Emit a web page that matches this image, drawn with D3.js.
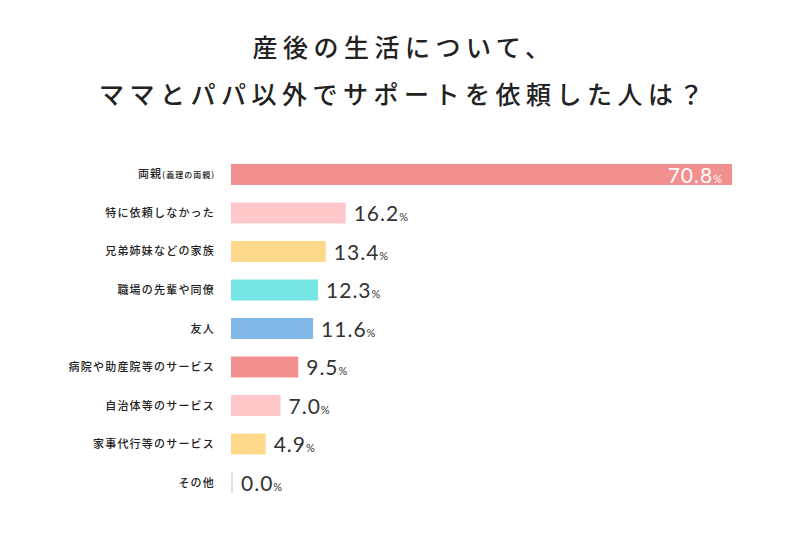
<!DOCTYPE html>
<html>
<head>
<meta charset="utf-8">
<script src="https://cdn.jsdelivr.net/npm/d3@7"></script>
<style>
  body { margin: 0; background: #fff; }
  svg { display: block; }
</style>
</head>
<body>
<svg id="chart" width="800" height="533"></svg>
<script>
// data
var titleLines = ["産後の生活について、", "ママとパパ以外でサポートを依頼した人は？"]
var categories = ["両親", "特に依頼しなかった", "兄弟姉妹などの家族", "職場の先輩や同僚", "友人",
                  "病院や助産院等のサービス", "自治体等のサービス", "家事代行等のサービス", "その他"]
var subLabels = ["(義理の両親)", "", "", "", "", "", "", "", ""]
var values = [70.8, 16.2, 13.4, 12.3, 11.6, 9.5, 7.0, 4.9, 0.0]
var barColors = ["#f28f8f", "#fec7ca", "#fed98b", "#74e6e5", "#80b9e8",
                 "#f28f8f", "#fec7ca", "#fed98b", "#dddddd"]

var svg = d3.select("#chart")
var x0 = 231

var x = d3.scaleLinear()
    .domain([0, d3.max(values)])
    .range([0, 501])

var y = d3.scaleBand()
    .domain(categories)
    .range([164, 493])
    .paddingInner(0.455)
    .paddingOuter(0)

// title
svg.selectAll("text.title")
    .data(titleLines)
    .enter().append("text")
    .attr("class", "title")
    .attr("x", 404)
    .attr("y", function(d, i) { return 57 + i * 47 })
    .attr("text-anchor", "middle")
    .style("font-family", "'Noto Sans CJK JP', sans-serif")
    .style("font-weight", 500)
    .style("font-size", "25px")
    .style("letter-spacing", "5.5px")
    .style("fill", "#222")
    .text(function(d) { return d })

var row = svg.selectAll("g.row")
    .data(categories)
    .enter().append("g")
    .attr("class", "row")

// bars
row.append("rect")
    .attr("x", x0)
    .attr("y", function(d) { return y(d) })
    .attr("height", y.bandwidth())
    .attr("width", function(d, i) { return Math.max(2, x(values[i])) })
    .style("fill", function(d, i) { return barColors[i] })

// category labels
var lab = row.append("text")
    .attr("x", 215)
    .attr("y", function(d) { return y(d) + y.bandwidth() / 2 + 4 })
    .attr("text-anchor", "end")
    .style("font-family", "'Noto Sans CJK JP', sans-serif")
    .style("font-weight", 500)
    .style("font-size", "11px")
    .style("letter-spacing", "1.2px")
    .style("fill", "#222")
lab.append("tspan").text(function(d) { return d })
lab.append("tspan")
    .style("font-size", "8px")
    .style("letter-spacing", "1px")
    .text(function(d, i) { return subLabels[i] })

// value labels
var val = row.append("text")
    .attr("x", function(d, i) {
        if (i == 0) { return x0 + x(values[i]) - 10 }
        else { return x0 + Math.max(2, x(values[i])) + 8 } })
    .attr("y", function(d) { return y(d) + y.bandwidth() - 2 })
    .attr("text-anchor", function(d, i) { return i == 0 ? "end" : "start" })
    .style("font-family", "Lato, sans-serif")
    .style("font-weight", 400)
    .style("font-size", "21px")
    .style("letter-spacing", "1px")
    .style("fill", function(d, i) { return i == 0 ? "#fff" : "#333" })
val.append("tspan").text(function(d, i) { return values[i].toFixed(1) })
val.append("tspan")
    .style("font-size", "11px")
    .style("letter-spacing", "0px")
    .text("%")
</script>
</body>
</html>
